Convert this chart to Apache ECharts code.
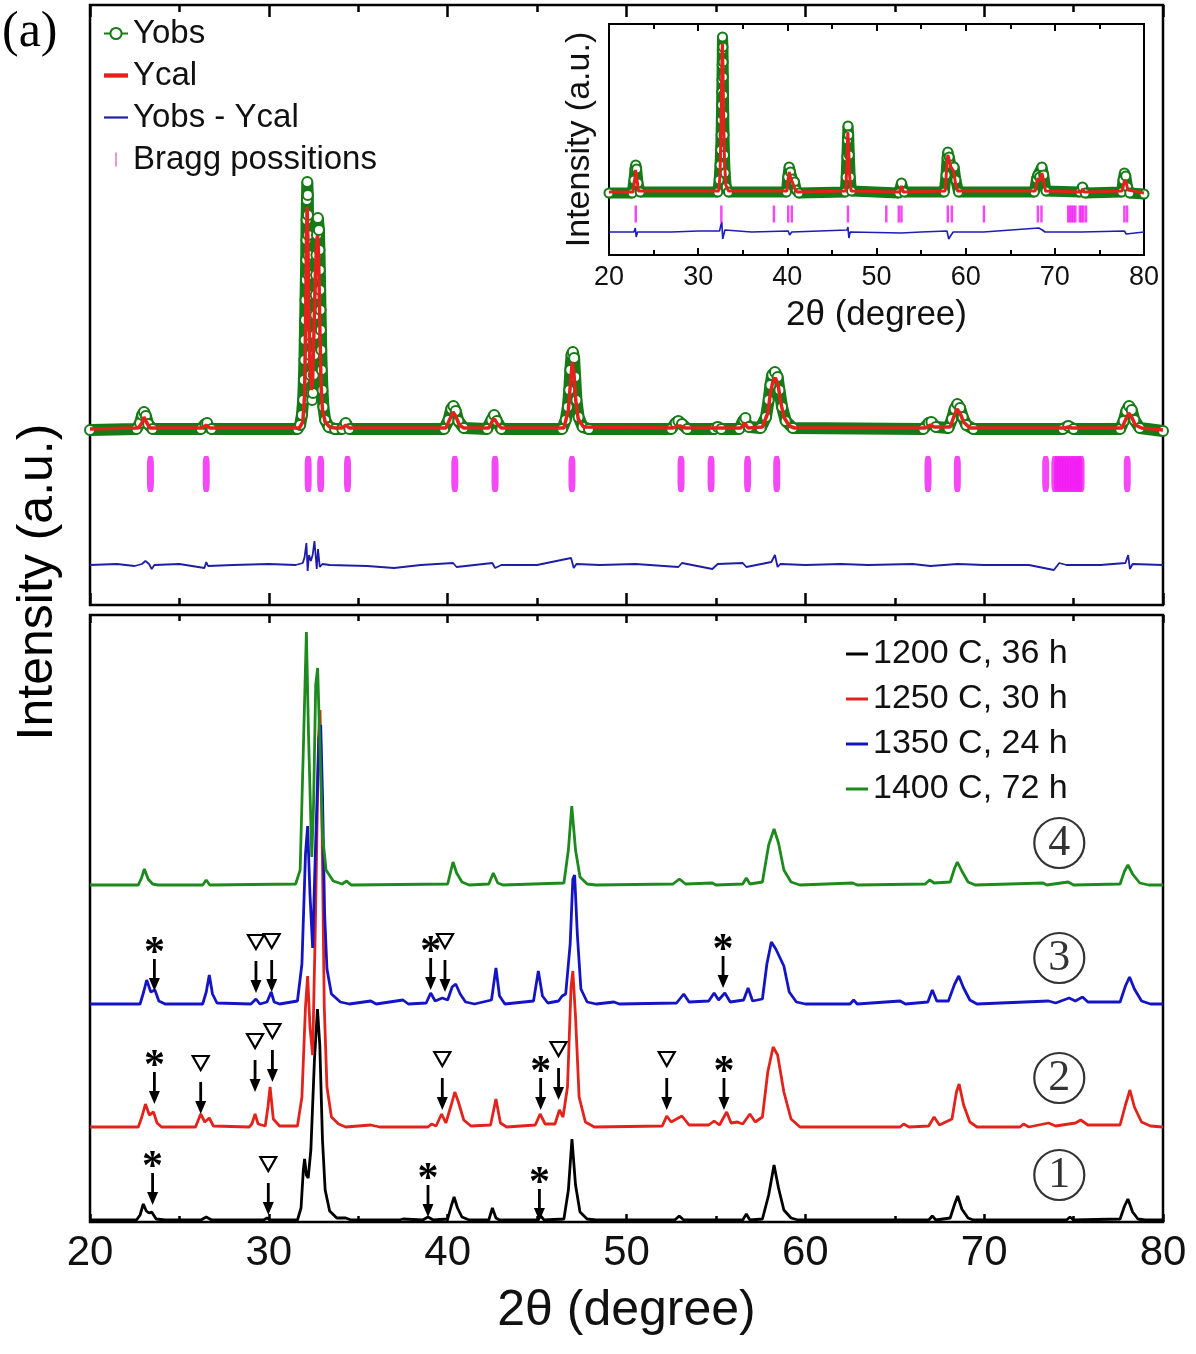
<!DOCTYPE html>
<html>
<head>
<meta charset="utf-8">
<title>XRD refinement and annealing series</title>
<script src="https://cdn.jsdelivr.net/npm/echarts@6/dist/echarts.min.js"></script>
<style>
  html, body { margin: 0; padding: 0; background: #fff; }
  #chart { width: 1196px; height: 1354px; }
</style>
</head>
<body>
<div id="chart"></div>
<script>
// ---------- data: top panel (Rietveld fit, a.u.) ----------
var obsTop = [[20,175],[22.6,176],[22.8,182],[22.92,190],[23.02,193],[23.12,189],[23.25,181],[23.5,176],
  [26.2,176],[26.45,181],[26.55,182],[26.8,176],
  [31.6,176],[31.75,180],[31.85,190],[31.92,205],[31.96,225],[31.99,245],[32.01,265],[32.03,285],[32.05,305],[32.07,325],
  [32.09,345],[32.1,365],[32.11,385],[32.13,405],[32.15,423],[32.18,410],[32.19,390],[32.2,370],[32.21,350],[32.22,330],
  [32.24,310],[32.26,290],[32.28,270],[32.3,250],[32.33,230],[32.37,212],[32.42,205],[32.47,212],[32.51,230],[32.54,250],
  [32.57,270],[32.6,290],[32.62,310],[32.64,330],[32.66,350],[32.69,370],[32.74,387],[32.8,375],[32.83,355],[32.85,335],
  [32.87,315],[32.89,295],[32.91,275],[32.93,255],[32.96,235],[33.0,215],[33.05,198],[33.15,185],[33.35,178],[33.7,176],
  [34.1,176],[34.3,182],[34.5,176],
  [39.8,176],[40.05,185],[40.2,196],[40.32,199],[40.45,194],[40.6,184],[40.9,177],
  [42.2,176],[42.45,185],[42.6,190],[42.75,184],[43.0,176],
  [46.4,176],[46.6,185],[46.72,198],[46.8,215],[46.86,235],[46.93,250],[47.0,253],[47.07,247],[47.13,228],[47.2,205],
  [47.32,188],[47.55,178],[47.9,176],
  [52.5,176],[52.75,182],[52.9,184],[53.1,181],[53.4,176],
  [54.9,176],[55.1,178],[55.3,176],
  [56.3,176],[56.55,185],[56.65,187],[56.85,178],
  [57.5,177],[57.8,188],[57.95,205],[58.05,220],[58.15,230],[58.3,233],[58.45,228],[58.55,215],[58.7,198],[58.9,184],[59.3,177],
  [66.6,176],[66.9,182],[67.05,183],[67.3,178],
  [68.0,177],[68.2,186],[68.35,196],[68.5,201],[68.65,197],[68.8,188],[69.0,180],[69.4,176],
  [74.4,176],[74.7,179],[75.0,176],
  [77.6,176],[77.8,184],[77.95,194],[78.1,199],[78.25,195],[78.4,185],[78.7,177],[80,174]];

var calTop = [[20,176],[22.7,177],[22.9,182],[23.02,188],[23.15,183],[23.35,177],
  [26.3,177],[26.5,180],[26.7,177],
  [31.7,177],[31.9,183],[32.0,210],[32.06,290],[32.1,360],[32.14,398],[32.18,370],[32.23,300],[32.3,240],[32.38,215],
  [32.45,225],[32.52,270],[32.6,330],[32.68,365],[32.73,370],[32.78,350],[32.85,280],[32.92,220],[33.0,195],[33.15,183],
  [33.4,178],[33.7,177],
  [34.1,177],[34.3,180],[34.5,177],
  [39.9,177],[40.15,187],[40.3,193],[40.45,189],[40.65,180],[40.9,177],
  [42.3,177],[42.5,184],[42.62,186],[42.78,181],[43.0,177],
  [46.5,177],[46.75,195],[46.88,225],[46.97,243],[47.06,232],[47.16,205],[47.3,186],[47.6,178],
  [52.6,177],[52.85,179],[53.0,179],[53.3,177],
  [56.4,177],[56.6,182],[56.8,177],
  [57.6,178],[57.9,192],[58.05,212],[58.2,225],[58.33,227],[58.48,220],[58.6,205],[58.8,188],[59.1,179],[59.4,177],
  [66.7,177],[67.0,180],[67.2,178],
  [68.1,178],[68.3,188],[68.48,196],[68.65,192],[68.85,183],[69.2,177],
  [74.5,177],[74.7,178],[74.9,177],
  [77.7,177],[77.9,185],[78.08,192],[78.25,188],[78.45,180],[78.8,177],[80,175]];

var diffTop = [[20,40],[21.5,41],[22.5,39],[22.9,41],[23.1,44],[23.3,41],[23.45,36],[23.6,40],[25.0,41],[26.4,37],
  [26.5,43],[26.6,39],[28.0,40],[30.0,41],[31.5,40],[31.9,42],[32.0,48],[32.1,62],[32.17,34],[32.25,50],[32.35,44],
  [32.45,50],[32.55,64],[32.68,36],[32.75,56],[32.85,38],[33.0,41],[33.4,40],[35.5,39],[37.0,37],[38.5,40],[40.3,42],
  [40.5,38],[41.5,40],[42.5,42],[42.65,37],[43.0,40],[45.0,40],[46.9,47],[47.05,37],[47.2,41],[48.5,40],[50.5,41],
  [52.9,38],[53.1,42],[54.8,36],[55.1,41],[56.5,42],[56.7,38],[58.1,43],[58.3,50],[58.45,38],[58.6,41],[60.0,40],
  [62.0,41],[63.5,40],[66.0,41],[67.0,39],[68.5,41],[70.0,40],[72.5,40],[73.9,35],[74.2,42],[74.6,40],[76.5,40],
  [77.9,42],[78.05,50],[78.15,36],[78.3,41],[80,40]];

var braggTop = [23.38, 26.5, 32.2, 32.9, 34.4, 40.4, 42.65, 46.95, 53.05, 54.73, 56.77, 58.4, 66.86, 68.5, 73.44,
  73.95, 74.1, 74.25, 74.4, 74.55, 74.7, 74.85, 75.0, 75.15, 75.3, 75.42, 78.0];
var braggTopLevel = 131;

// ---------- data: inset ----------
var obsInset = [[20,62],[22.6,62],[22.8,75],[22.92,86],[23.0,90],[23.1,86],[23.25,72],[23.5,63],
  [32.2,63],[32.35,75],[32.45,90],[32.52,105],[32.57,120],[32.6,135],[32.63,150],[32.65,163],[32.67,175],[32.69,190],
  [32.71,205],[32.73,218],[32.78,208],[32.8,193],[32.82,178],[32.84,160],[32.87,140],[32.9,120],[32.95,100],[33.02,82],
  [33.15,68],[33.4,63],
  [39.9,63],[40.05,78],[40.2,88],[40.35,83],[40.55,76],[40.8,73],[41.0,65],[41.3,62],
  [46.5,63],[46.6,78],[46.68,98],[46.74,115],[46.8,129],[46.88,120],[46.95,100],[47.05,78],[47.2,64],
  [52.5,62],[52.8,72],[53.1,63],
  [57.6,63],[57.8,80],[57.92,97],[58.0,103],[58.15,98],[58.35,90],[58.7,88],[58.9,75],[59.2,63],
  [67.7,63],[67.95,76],[68.1,80],[68.3,78],[68.55,88],[68.75,80],[69.0,64],
  [72.8,63],[73.1,68],[73.4,62],
  [77.5,63],[77.65,75],[77.8,82],[77.95,79],[78.15,68],[78.4,62],[80,61]];

var calInset = [[20,63],[22.7,63],[22.88,75],[22.98,85],[23.1,78],[23.3,64],
  [32.3,64],[32.45,80],[32.55,120],[32.62,170],[32.68,205],[32.72,212],[32.78,190],[32.85,140],[32.95,95],[33.1,70],[33.4,64],
  [39.95,64],[40.1,76],[40.2,83],[40.35,78],[40.6,72],[40.85,66],[41.1,63],
  [46.55,64],[46.7,95],[46.78,123],[46.86,110],[46.98,80],[47.15,64],
  [52.6,63],[52.8,69],[53.0,63],
  [57.7,64],[57.88,88],[58.0,100],[58.12,96],[58.35,88],[58.65,84],[58.85,72],[59.1,64],
  [67.8,64],[68.0,74],[68.15,77],[68.35,74],[68.55,82],[68.75,74],[68.95,64],
  [73.0,63],[73.1,66],[73.3,63],
  [77.55,64],[77.7,70],[77.82,75],[78.0,72],[78.2,65],[78.4,63],[80,62]];

var diffInset = [[20,23],[22.8,23],[22.95,27],[23.05,18],[23.2,23],[27,23],[30,24],[32.4,24],[32.55,30],[32.65,33],
  [32.75,16],[32.85,14],[33.0,25],[33.2,23],[36,23],[40.1,24],[40.25,20],[40.5,23],[46.7,25],[46.8,28],[46.9,17],
  [47.05,23],[52.8,22],[55,23],[57.9,24],[58.1,16],[58.3,19],[58.6,23],[62,23],[68.2,27],[68.4,28],[68.6,25],
  [68.9,23],[73,23],[77.8,24],[78,21],[78.2,23],[80,23]];

var braggInset = [23.0, 32.6, 38.5, 40.1, 40.5, 46.8, 51.1, 52.5, 52.8, 58.0, 58.45, 62.05, 68.1, 68.5,
  71.5, 71.7, 71.9, 72.1, 72.3, 72.8, 73.0, 73.2, 73.5, 77.8, 78.1];
var braggInsetLevel = 41;

// ---------- data: bottom panel (four anneals, intensity above own baseline) ----------
var names = ['1200 C, 36 h', '1250 C, 30 h', '1350 C, 24 h', '1400 C, 72 h'];
var offsets = [2, 95, 218, 337];

var pat1200 = [[20,0],[22.6,0],[22.8,5],[22.98,16],[23.15,9],[23.3,7],[23.45,8],[23.7,1],[24.2,0],[26.2,0],[26.5,3],
  [26.8,0],[29.7,0],[29.9,2],[30.1,0],[31.6,0],[31.8,12],[31.93,50],[32.0,61],[32.1,45],[32.2,42],[32.35,70],[32.55,160],
  [32.72,211],[32.85,175],[33.0,80],[33.15,30],[33.4,9],[33.8,2],[34.3,2],[34.6,0],[37.3,0],[37.5,1],[38.6,0],[38.9,3],
  [39.2,0],[40.0,1],[40.2,14],[40.36,23],[40.55,12],[40.8,3],[41.2,0],[42.3,0],[42.5,12],[42.7,2],[42.9,0],[45.0,0],
  [45.2,4],[45.4,0],[46.5,1],[46.75,30],[46.95,81],[47.15,35],[47.4,8],[47.8,1],[48.3,0],[52.7,0],[52.95,4],[53.2,0],
  [56.5,0],[56.7,6],[56.9,0],[57.6,1],[57.95,25],[58.25,55],[58.5,32],[58.8,10],[59.2,2],[59.6,0],[66.9,0],[67.1,4],
  [67.3,0],[68.1,2],[68.35,16],[68.52,24],[68.75,11],[69.1,2],[69.4,0],[74.6,0],[74.8,3],[75.0,0],[77.6,1],[77.85,14],
  [78.04,21],[78.3,8],[78.6,1],[79.0,0],[80,0]];

var pat1250 = [[20,0],[22.7,0],[22.9,10],[23.1,23],[23.32,12],[23.55,15],[23.75,4],[24.0,0],[25.9,0],[26.19,13],
  [26.42,5],[26.67,9],[26.9,1],[28.9,0],[29.05,3],[29.23,13],[29.4,3],[29.8,1],[29.95,20],[30.07,40],[30.25,8],[30.6,1],
  [31.6,1],[31.85,30],[32.05,120],[32.17,151],[32.3,100],[32.45,72],[32.6,200],[32.78,390],[32.86,417],[32.95,340],
  [33.1,120],[33.25,40],[33.5,10],[33.9,3],[34.3,0],[35.7,2],[36.2,0],[38.9,0],[39.1,3],[39.35,1],[39.66,13],[39.9,4],
  [40.2,22],[40.4,35],[40.6,25],[40.9,7],[41.3,1],[42.4,2],[42.7,28],[42.95,4],[43.3,0],[44.9,2],[45.17,13],[45.45,3],
  [46.0,3],[46.25,17],[46.45,10],[46.7,40],[46.9,140],[47.0,156],[47.15,110],[47.35,30],[47.7,5],[48.2,0],[52.0,1],
  [52.25,11],[52.5,5],[53.1,11],[53.5,2],[54.6,2],[54.9,6],[55.2,2],[55.6,15],[55.85,4],[56.2,5],[56.5,3],[56.9,13],
  [57.2,5],[57.6,10],[57.9,55],[58.2,80],[58.45,72],[58.8,35],[59.2,8],[59.7,0],[65.3,0],[65.5,3],[65.8,0],[66.9,1],
  [67.2,10],[67.5,2],[68.2,8],[68.45,35],[68.6,43],[68.85,22],[69.2,5],[69.6,0],[72.0,0],[72.2,3],[72.5,0],[73.6,4],
  [74.0,1],[75.1,4],[75.4,7],[75.8,2],[77.6,2],[77.9,22],[78.15,37],[78.4,20],[78.8,5],[79.3,1],[80,0]];

var pat1350 = [[20,0],[22.8,0],[23.0,12],[23.17,24],[23.4,12],[23.63,14],[23.85,3],[24.2,0],[26.3,0],[26.5,12],
  [26.67,29],[26.85,10],[27.1,1],[29.0,0],[29.28,5],[29.5,0],[29.9,2],[30.13,12],[30.3,2],[30.6,0],[31.6,3],[31.85,40],
  [32.05,150],[32.17,178],[32.3,110],[32.45,56],[32.6,150],[32.8,265],[32.9,279],[33.0,210],[33.12,90],[33.25,35],
  [33.5,10],[34.0,2],[34.5,0],[35.7,3],[36.0,0],[37.5,4],[37.8,0],[38.8,1],[39.05,11],[39.3,3],[39.7,6],[40.0,4],
  [40.25,17],[40.45,20],[40.7,10],[41.0,2],[41.5,0],[42.45,4],[42.7,36],[42.9,8],[43.2,0],[44.8,3],[45.07,33],[45.3,8],
  [45.6,1],[46.2,3],[46.4,8],[46.6,10],[46.85,60],[47.0,125],[47.1,129],[47.25,70],[47.45,15],[47.8,2],[48.3,0],
  [49.3,2],[49.6,0],[52.8,1],[53.2,10],[53.5,2],[54.6,3],[54.9,11],[55.15,4],[55.5,11],[55.8,2],[56.55,4],[56.8,16],
  [57.05,3],[57.6,5],[57.85,40],[58.1,62],[58.35,55],[58.8,38],[59.1,12],[59.5,2],[60.0,0],[62.5,0],[62.7,4],[62.9,0],
  [65.3,3],[65.6,0],[66.85,2],[67.1,14],[67.35,3],[68.0,3],[68.35,20],[68.58,28],[68.85,16],[69.2,4],[69.6,0],[73.6,3],
  [74.0,1],[74.75,6],[75.1,3],[75.5,7],[75.8,2],[77.6,2],[77.9,18],[78.13,27],[78.4,15],[78.8,3],[79.3,0],[80,0]];

var pat1400 = [[20,0],[22.7,0],[22.88,7],[23.04,16],[23.25,6],[23.5,1],[23.8,0],[26.3,0],[26.5,5],[26.7,0],[31.5,1],
  [31.75,15],[31.95,150],[32.1,253],[32.22,150],[32.4,28],[32.5,80],[32.62,200],[32.73,217],[32.82,160],[33.0,50],
  [33.2,15],[33.6,4],[34.1,1],[34.35,4],[34.6,0],[40.0,1],[40.15,12],[40.3,23],[40.5,12],[40.8,3],[41.2,0],[42.3,1],
  [42.55,12],[42.8,2],[43.1,0],[46.5,2],[46.75,35],[46.94,79],[47.15,35],[47.4,8],[47.8,1],[48.3,0],[52.6,1],[52.96,6],
  [53.3,1],[54.8,2],[55.0,0],[56.5,1],[56.7,7],[56.9,1],[57.6,3],[57.95,40],[58.25,56],[58.5,42],[58.8,15],[59.2,3],
  [59.7,0],[62.65,2],[62.9,0],[66.7,1],[66.95,5],[67.2,2],[68.1,3],[68.35,17],[68.5,23],[68.75,14],[69.1,3],[69.5,0],
  [73.3,2],[73.5,0],[74.7,3],[75.0,0],[77.6,1],[77.85,14],[78.04,20],[78.3,11],[78.7,2],[79.2,0],[80,0]];

// impurity marks: [2theta, arrow tip (plotted a.u.), kind 0 = *, 1 = triangle]
var marks = [
  [23.6,231,0],[29.28,229,1],[30.16,230,1],[39.05,232,0],[39.85,230,1],[55.4,234,0],
  [23.6,118,0],[26.19,108,1],[29.23,130,1],[30.2,140,1],[39.7,112,1],[45.2,112,0],[46.2,122,1],[52.25,112,1],[55.45,112,0],
  [23.5,17,0],[29.97,7,1],[38.9,5,0],[45.13,1,0]
];

// circled sample numbers
var tagX = [74.2, 74.2, 74.2, 74.2];
var tagY = [47, 144, 264, 379];
var tagText = ['1', '2', '3', '4'];

// ---------- chart ----------
var GREEN = '#167a16', RED = '#e3221b', BLUE = '#1414c4', MAGENTA = '#f21af2';
var lineColors = ['#000000', RED, BLUE, '#1d8a1d'];
var pats = [pat1200, pat1250, pat1350, pat1400];
var FONT = 'Liberation Sans, Arial, sans-serif';
var DASH = 'path://M0,0h22v3h-22z';

function shifted(pat, off) {
  return pat.map(function (p) { return [p[0], p[1] + off]; });
}

function xAx(grid, pos, major, minor, tickW, label) {
  return {
    type: 'value', gridIndex: grid, position: pos, min: 20, max: 80, interval: 10,
    axisLine: { show: false }, splitLine: { show: false },
    axisTick: { show: true, inside: true, length: major, lineStyle: { color: '#000', width: tickW } },
    minorTick: { show: true, splitNumber: 2, length: minor, lineStyle: { color: '#000', width: tickW } },
    axisLabel: label ? label : { show: false }
  };
}

var chart = echarts.init(document.getElementById('chart'), null, { renderer: 'canvas' });

var series = [
  { name: 'Yobs', type: 'line', xAxisIndex: 0, yAxisIndex: 0, data: obsTop, z: 2,
    symbol: 'emptyCircle', symbolSize: 10, showSymbol: true, showAllSymbol: true,
    itemStyle: { color: GREEN, borderWidth: 2.5 }, lineStyle: { color: GREEN, width: 12 } },
  { name: 'Ycal', type: 'line', xAxisIndex: 0, yAxisIndex: 0, data: calTop, z: 3, symbol: 'none',
    itemStyle: { color: RED }, lineStyle: { color: RED, width: 3.5 } },
  { name: 'Yobs - Ycal', type: 'line', xAxisIndex: 0, yAxisIndex: 0, data: diffTop, z: 3, symbol: 'none',
    itemStyle: { color: '#1d1da8' }, lineStyle: { color: '#1d1da8', width: 1.8 } },
  { name: 'Bragg possitions', type: 'scatter', xAxisIndex: 0, yAxisIndex: 0, z: 3,
    data: braggTop.map(function (x) { return [x, braggTopLevel]; }),
    symbol: 'roundRect', symbolSize: [7, 36], itemStyle: { color: MAGENTA } },
  // inset
  { name: 'inset obs', type: 'line', xAxisIndex: 2, yAxisIndex: 1, data: obsInset, z: 2,
    symbol: 'emptyCircle', symbolSize: 9, showSymbol: true, showAllSymbol: true,
    itemStyle: { color: GREEN, borderWidth: 2.2 }, lineStyle: { color: GREEN, width: 11 } },
  { name: 'inset cal', type: 'line', xAxisIndex: 2, yAxisIndex: 1, data: calInset, z: 3, symbol: 'none',
    lineStyle: { color: RED, width: 3 } },
  { name: 'inset diff', type: 'line', xAxisIndex: 2, yAxisIndex: 1, data: diffInset, z: 3, symbol: 'none',
    lineStyle: { color: '#1d1db8', width: 1.6 } },
  { name: 'inset bragg', type: 'scatter', xAxisIndex: 2, yAxisIndex: 1, z: 3,
    data: braggInset.map(function (x) { return [x, braggInsetLevel]; }),
    symbol: 'rect', symbolSize: [2.5, 17], itemStyle: { color: MAGENTA } }
];

pats.forEach(function (pat, i) {
  series.push({
    name: names[i], type: 'line', xAxisIndex: 4, yAxisIndex: 2, z: 2 + i,
    data: shifted(pat, offsets[i]), symbol: 'none',
    itemStyle: { color: lineColors[i] }, lineStyle: { color: lineColors[i], width: 2.8 }
  });
});

series.push({
  name: 'marks', type: 'custom', xAxisIndex: 4, yAxisIndex: 2, z: 10,
  data: marks, encode: { x: 0, y: 1 },
  renderItem: function (params, api) {
    var p = api.coord([api.value(0), api.value(1)]);
    var x = p[0], y = p[1];
    var kids = [
      { type: 'line', shape: { x1: x, y1: y - 32, x2: x, y2: y - 11 }, style: { stroke: '#000', lineWidth: 2.8 } },
      { type: 'polygon', shape: { points: [[x - 5.5, y - 13], [x + 5.5, y - 13], [x, y]] }, style: { fill: '#000' } }
    ];
    if (api.value(2) === 0) {
      kids.push({ type: 'text', x: x, y: y - 37,
        style: { text: '*', font: 'bold 42px Liberation Serif', fill: '#000', align: 'center', verticalAlign: 'middle' } });
    } else {
      kids.push({ type: 'polygon', shape: { points: [[x - 8, y - 58], [x + 8, y - 58], [x, y - 44]] },
        style: { fill: 'none', stroke: '#000', lineWidth: 2.2 } });
    }
    return { type: 'group', children: kids };
  }
});

series.push({
  name: 'tags', type: 'scatter', xAxisIndex: 4, yAxisIndex: 2, z: 10,
  data: tagX.map(function (x, i) { return { value: [x, tagY[i]], name: tagText[i] }; }),
  symbol: 'circle', symbolSize: 50,
  itemStyle: { color: 'rgba(0,0,0,0)', borderColor: '#000', borderWidth: 2.2 },
  label: { show: true, position: 'inside', formatter: function (p) { return p.name; },
    fontFamily: 'Liberation Serif, Times New Roman, serif', fontSize: 44, color: '#000' }
});

var option = {
  animation: false,
  backgroundColor: '#fff',
  grid: [
    { left: 90, top: 5, width: 1073, height: 600, show: true, borderColor: '#000', borderWidth: 2.5,
      backgroundColor: 'rgba(0,0,0,0)', outerBoundsMode: 'none' },
    { left: 609, top: 24, width: 535, height: 231, show: true, borderColor: '#000', borderWidth: 2,
      backgroundColor: '#fff', outerBoundsMode: 'none' },
    { left: 90, top: 615, width: 1073, height: 607, show: true, borderColor: '#000', borderWidth: 2.5,
      backgroundColor: 'rgba(0,0,0,0)', outerBoundsMode: 'none' }
  ],
  xAxis: [
    xAx(0, 'bottom', 12, 7, 2.5, null),
    xAx(0, 'top', 12, 7, 2.5, null),
    (function () {
      var a = xAx(1, 'bottom', 7, 5, 2, { show: true, margin: 9, fontSize: 27, color: '#111', fontFamily: FONT });
      a.name = '2θ (degree)'; a.nameLocation = 'middle'; a.nameGap = 43;
      a.nameTextStyle = { fontSize: 35, color: '#111', fontFamily: FONT };
      return a;
    })(),
    xAx(1, 'top', 7, 5, 2, null),
    (function () {
      var a = xAx(2, 'bottom', 8, 6, 2.5, { show: true, margin: 10, fontSize: 42, color: '#111', fontFamily: FONT });
      a.name = '2θ (degree)'; a.nameLocation = 'middle'; a.nameGap = 64;
      a.nameTextStyle = { fontSize: 50, color: '#111', fontFamily: FONT };
      return a;
    })(),
    xAx(2, 'top', 8, 6, 2.5, null)
  ],
  yAxis: [
    { type: 'value', gridIndex: 0, min: 0, max: 600, show: false },
    { type: 'value', gridIndex: 1, min: 0, max: 231, axisLine: { show: false }, axisTick: { show: false },
      axisLabel: { show: false }, splitLine: { show: false },
      name: 'Intensity (a.u.)', nameLocation: 'middle', nameGap: 12,
      nameTextStyle: { fontSize: 34, color: '#111', fontFamily: FONT } },
    { type: 'value', gridIndex: 2, min: 0, max: 607, show: false }
  ],
  legend: [
    { orient: 'vertical', left: 103, top: 17, padding: 0, itemGap: 9, itemWidth: 24, itemHeight: 14,
      textStyle: { fontSize: 33, color: '#111', fontFamily: FONT },
      data: [
        { name: 'Yobs', lineStyle: { width: 2 }, itemStyle: { borderWidth: 2 } },
        { name: 'Ycal', icon: 'path://M0,0h22v4h-22z' },
        { name: 'Yobs - Ycal', icon: 'path://M0,0h22v2h-22z' },
        { name: 'Bragg possitions', icon: 'path://M0,0h2v14h-2z', itemStyle: { color: '#d77fd7' } }
      ] },
    { orient: 'vertical', left: 846, top: 637, padding: 0, itemGap: 11, itemWidth: 22, itemHeight: 14,
      textStyle: { fontSize: 34, color: '#111', fontFamily: FONT },
      data: names.map(function (n) { return { name: n, icon: DASH }; }) }
  ],
  graphic: [
    { type: 'text', left: 2, top: 8, style: { text: '(a)', font: '50px Liberation Serif', fill: '#000' } },
    { type: 'text', x: 38, y: 582, rotation: Math.PI / 2,
      style: { text: 'Intensity (a.u.)', font: '50px Liberation Sans', fill: '#000', align: 'center', verticalAlign: 'middle' } }
  ],
  series: series
};

chart.setOption(option);
</script>
</body>
</html>
